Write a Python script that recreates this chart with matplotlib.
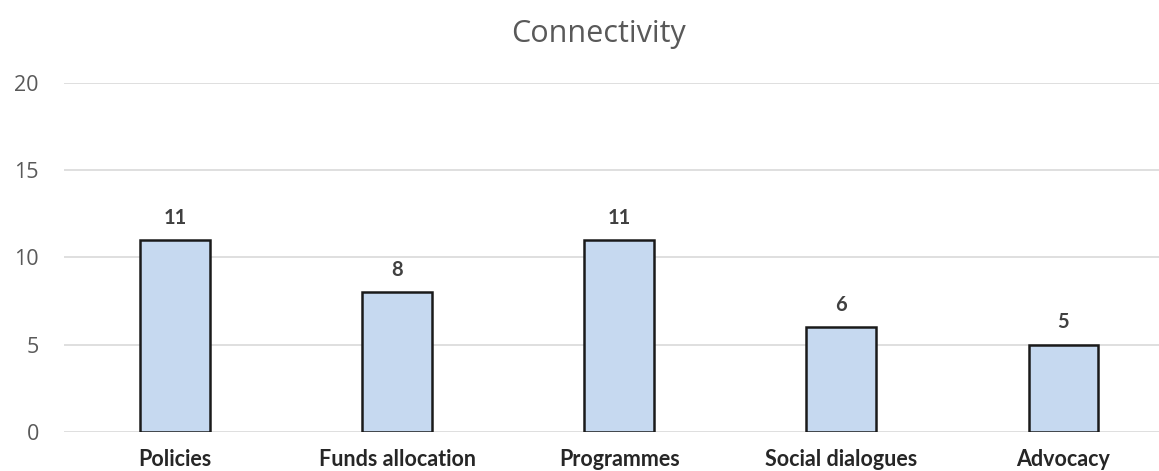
import matplotlib.pyplot as plt

plt.rcParams['font.family'] = ['Lato', 'DejaVu Sans']

categories = ['Policies', 'Funds allocation', 'Programmes', 'Social dialogues', 'Advocacy']
counts = [11, 8, 11, 6, 5]
yticks = [0, 5, 10, 15, 20]

fig = plt.figure(figsize=(11.59, 4.71), dpi=100)
ax = fig.add_axes([0.0552, 0.0828, 0.9448, 0.741])

xs = list(range(len(categories)))
bars = ax.bar(xs, counts, width=0.315, color='#C6D9F0', edgecolor='#1a1a1a',
              linewidth=1.8, zorder=3)

for x, v in zip(xs, counts):
    ax.annotate(str(v), (x, v), xytext=(0, 9), textcoords='offset points',
                ha='center', va='bottom', fontsize=14.5, fontweight='bold',
                color='#404040')

ax.set_xlim(-0.5, 4.43)
ax.set_ylim(0, 20)
ax.set_yticks(yticks)
ax.set_xticks(xs)
ax.set_xticklabels(categories, fontsize=15.5, fontweight='bold', color='#262626')
ax.tick_params(axis='y', labelsize=15.5, labelcolor='#595959', length=0, pad=18)
ax.tick_params(axis='x', length=0, pad=12)
for lbl in ax.get_yticklabels():
    lbl.set_family(['Open Sans', 'DejaVu Sans'])
ax.grid(axis='y', color='#D9D9D9', linewidth=1.2, zorder=0)
for s in ax.spines.values():
    s.set_visible(False)

fig.text(0.516, 0.928, 'Connectivity', ha='center', va='center', fontsize=22,
         color='#595959', family=['Open Sans', 'DejaVu Sans'])

fig.savefig('out.png', dpi=100)
